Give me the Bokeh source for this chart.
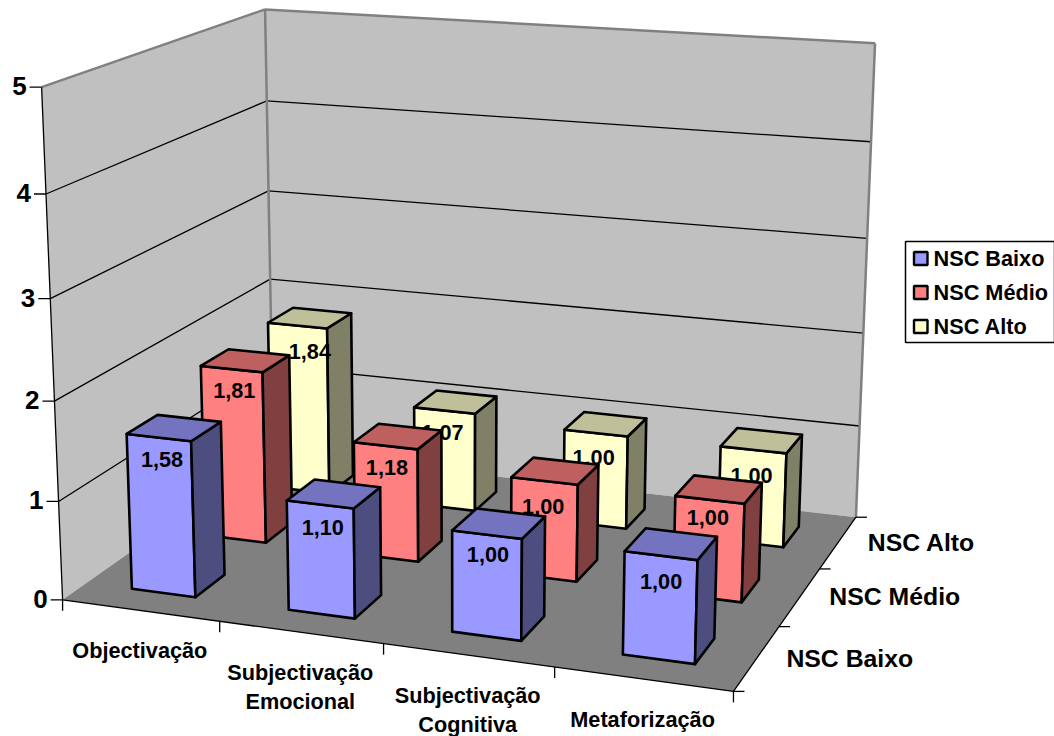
import numpy as np
from bokeh.plotting import figure
from bokeh.core.properties import value
from bokeh.embed import file_html
from bokeh.resources import INLINE

# Chart data
categories = [["Objectivação"], ["Subjectivação", "Emocional"], ["Subjectivação", "Cognitiva"], ["Metaforização"]]
series_names = ["NSC Baixo", "NSC Médio", "NSC Alto"]
nsc_baixo = [1.58, 1.10, 1.00, 1.00]
nsc_medio = [1.81, 1.18, 1.00, 1.00]
nsc_alto = [1.84, 1.07, 1.00, 1.00]
value_ticks = [0, 1, 2, 3, 4, 5]

# (category, series, value) -> canvas position of the frame corners, used to solve the camera
U, V, Z = len(categories), len(series_names), value_ticks[-1]
frame = [
    ((0, 0, 0), (62, 600)), ((U, 0, 0), (733, 691)), ((U, V, 0), (856, 517)), ((0, V, 0), (273, 451)),
    ((0, 0, 5), (41, 87)), ((0, V, 5), (264, 9)), ((U, V, 5), (875, 43)),
    ((0, 0, 1), (58, 500)), ((0, 0, 3), (50, 298)), ((0, V, 3), (268.5, 190)), ((U, V, 1), (858, 425)),
]

def solve_camera(pairs):
    rows, rhs = [], []
    for (x, y, z), (px, py) in pairs:
        rows.append([x, y, z, 1, 0, 0, 0, 0, -px * x, -px * y, -px * z])
        rows.append([0, 0, 0, 0, x, y, z, 1, -py * x, -py * y, -py * z])
        rhs += [px, py]
    m = np.linalg.lstsq(np.array(rows, float), np.array(rhs, float), rcond=None)[0]
    return np.append(m, 1.0).reshape(3, 4)

CAM = solve_camera(frame)

def project(x, y, z):
    h = CAM @ np.array([x, y, z, 1.0])
    return float(h[0] / h[2]), float(h[1] / h[2])

def poly(*pts):
    xy = [project(*p) for p in pts]
    return [a for a, _ in xy], [b for _, b in xy]

p = figure(width=1054, height=736, x_range=(0, 1054), y_range=(736, 0), output_backend="svg",
           toolbar_location=None, min_border=0, outline_line_color=None, background_fill_color="white")
p.axis.visible = False
p.grid.visible = False

WALL, FLOOR, EDGE = "#C0C0C0", "#808080", "#808080"
FONT = value("Liberation Sans")

def face(pts, fill, lc="black", lw=2.6):
    xs, ys = poly(*pts)
    p.patch(xs, ys, fill_color=fill, line_color=lc, line_width=lw, line_join="round")

def seg(a, b, color="black", lw=1.3):
    xs, ys = poly(a, b)
    p.line(xs, ys, line_color=color, line_width=lw)

def label(text, x, y, size, align="center", baseline="middle", dx=0, dy=0):
    p.text([x], [y], text=[text], text_font=FONT, text_font_style="bold", text_font_size=f"{size}px",
           text_align=align, text_baseline=baseline, x_offset=dx, y_offset=dy, text_color="black")

# Walls and floor
face([(0, 0, 0), (0, V, 0), (0, V, Z), (0, 0, Z)], WALL, lc=None, lw=0)
face([(0, V, 0), (U, V, 0), (U, V, Z), (0, V, Z)], WALL, lc=None, lw=0)
face([(0, 0, 0), (U, 0, 0), (U, V, 0), (0, V, 0)], FLOOR, lc=None, lw=0)

# Gridlines
for t in value_ticks[1:-1]:
    seg((0, 0, t), (0, V, t))
    seg((0, V, t), (U, V, t))

# Wall outlines
seg((0, 0, Z), (0, V, Z), EDGE, 2.5)
seg((0, V, Z), (U, V, Z), EDGE, 2.5)
seg((0, V, 0), (0, V, Z), EDGE, 2.5)
seg((U, V, 0), (U, V, Z), EDGE, 2.5)

# Axis lines and tick marks
seg((0, 0, 0), (0, 0, Z))
seg((0, 0, 0), (U, 0, 0))
seg((U, 0, 0), (U, V, 0))
for t in value_ticks:
    x, y = project(0, 0, t)
    p.line([x - 12, x], [y, y], line_color="black", line_width=1.3)
    label(str(t), x, y, 26, align="right", dx=-15, dy=-1)
for c in range(U + 1):
    x, y = project(c, 0, 0)
    p.line([x, x], [y, y + 11], line_color="black", line_width=1.3)
for s in range(V + 1):
    x, y = project(U, s, 0)
    p.line([x, x + 11], [y, y], line_color="black", line_width=1.3)

# Category and series labels
for c, lines in enumerate(categories):
    x, y = project(c + 0.5, 0, 0)
    for i, text in enumerate(lines):
        label(text, x - 0.5, y, 21.7, dy=40 + 29 * i)
for s, text in enumerate(series_names):
    x, y = project(U, s + 0.5, 0)
    label(text, x, y, 24.8, align="left", dx=29.5)

# Bars, rear series first so nearer bars cover farther ones and their labels
GAP_U, GAP_V = 0.295, 0.30
palette = [("#9999FF", "#7373BF", "#4D4D80"), ("#FF8080", "#BF6060", "#804040"), ("#FFFFCC", "#BFBF99", "#808066")]
rows = [nsc_baixo, nsc_medio, nsc_alto]
# Per-label fine placement (dx, dy) around the centre of each bar's top
label_nudge = [
    [(-12, 32), (-11, 34), (-11, 31), (-10, 38)],
    [(-11, 30), (-11, 31), (-12, 35), (-11, 28)],
    [(0, 34), (-13, 31), (-12, 33), (-10, 35)],
]
for s in reversed(range(V)):
    front, top, side = palette[s]
    for c, val in enumerate(rows[s]):
        u0, u1 = c + GAP_U, c + 1 - GAP_U
        v0, v1 = s + GAP_V, s + 1 - GAP_V
        face([(u0, v0, 0), (u1, v0, 0), (u1, v0, val), (u0, v0, val)], front)
        face([(u1, v0, 0), (u1, v1, 0), (u1, v1, val), (u1, v0, val)], side)
        face([(u0, v0, val), (u1, v0, val), (u1, v1, val), (u0, v1, val)], top)
        x, y = project(c + 0.5, s + 0.5, val)
        dx, dy = label_nudge[s][c]
        label(f"{val:.2f}".replace(".", ","), x, y, 21.7, dx=dx, dy=dy)

# Legend
p.quad(left=[905], right=[1054], top=[241], bottom=[342], fill_color="white", line_color="black", line_width=1.5)
for s, text in enumerate(series_names):
    y = 258 + 34 * s
    p.quad(left=[913.5], right=[927], top=[y - 6.5], bottom=[y + 6.5], fill_color=palette[s][0],
           line_color="black", line_width=2.4)
    label(text, 933, y, 21.7, align="left")

open("out.html", "w").write(file_html(p, INLINE))
